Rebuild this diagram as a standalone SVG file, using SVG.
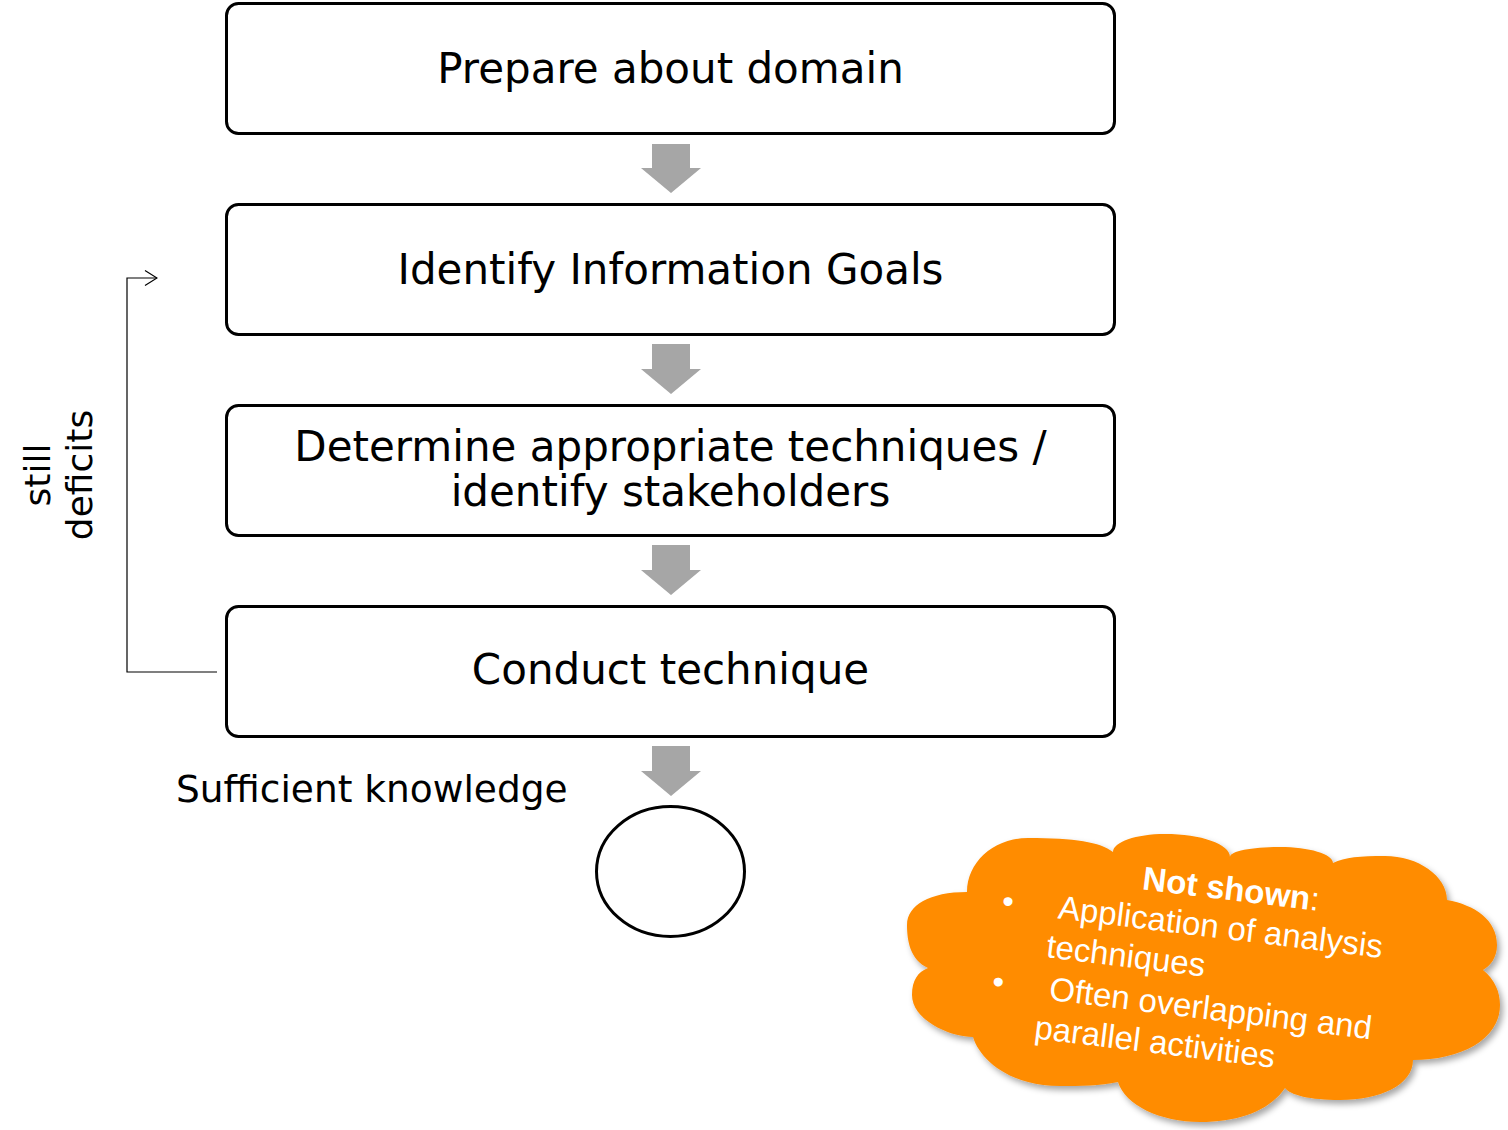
<svg xmlns="http://www.w3.org/2000/svg" width="1508" height="1130" viewBox="0 0 1508 1130">
<style>
.box{fill:#fff;stroke:#000;stroke-width:3}
.bt{font-family:"DejaVu Sans",Verdana,sans-serif;font-size:42px;fill:#000;text-anchor:middle}
.lbl{font-family:"DejaVu Sans",Verdana,sans-serif;font-size:36px;fill:#000}
.barrow{fill:#A6A6A6}
.conn{fill:none;stroke:#000;stroke-width:1.2}
.ct{font-family:"Liberation Sans",Arial,sans-serif;font-size:33px;fill:#fff}
</style>
<defs>
<marker id="open" markerWidth="14" markerHeight="18" refX="13" refY="9" orient="auto" markerUnits="userSpaceOnUse">
<path d="M1,1.5 L13,9 L1,16.5" fill="none" stroke="#000" stroke-width="1.2"/>
</marker>
<filter id="shadow" x="-10%" y="-10%" width="120%" height="130%">
<feDropShadow dx="3" dy="4" stdDeviation="3" flood-color="#000" flood-opacity="0.35"/>
</filter>
</defs>
<rect width="1508" height="1130" fill="#fff"/>
<g id="connectors">
<path class="barrow" d="M652,144 H690 V168 H701 L671,193 L641,168 H652 Z"/>
<path class="barrow" d="M652,344 H690 V369 H701 L671,394 L641,369 H652 Z"/>
<path class="barrow" d="M652,545 H690 V570 H701 L671,595 L641,570 H652 Z"/>
<path class="barrow" d="M652,746 H690 V771 H701 L671,796 L641,771 H652 Z"/>
<path class="conn" d="M217,672 H127 V278 H157" marker-end="url(#open)"/>
<g id="label-deficits">
<text class="lbl" text-anchor="middle" transform="translate(50,475) rotate(-90)">still</text>
<text class="lbl" text-anchor="middle" transform="translate(92,475) rotate(-90)">deficits</text>
</g>
<text id="label-sufficient" class="lbl" x="176" y="802" style="font-size:37.5px">Sufficient knowledge</text>
</g>
<g id="node-prepare">
<rect class="box" x="226.5" y="3.5" width="888" height="130" rx="12"/>
<text class="bt" x="670.5" y="83">Prepare about domain</text>
</g>
<g id="node-identify">
<rect class="box" x="226.5" y="204.5" width="888" height="130" rx="12"/>
<text class="bt" x="670.5" y="284">Identify Information Goals</text>
</g>
<g id="node-determine">
<rect class="box" x="226.5" y="405.5" width="888" height="130" rx="12"/>
<text class="bt" x="670.5" y="461">Determine appropriate techniques /</text>
<text class="bt" x="670.5" y="506">identify stakeholders</text>
</g>
<g id="node-conduct">
<rect class="box" x="226.5" y="606.5" width="888" height="130" rx="12"/>
<text class="bt" x="670.5" y="684">Conduct technique</text>
</g>
<g id="node-end">
<ellipse cx="670.5" cy="871.5" rx="74" ry="65" fill="#fff" stroke="#000" stroke-width="3"/>
</g>
<g id="node-cloud">
<path filter="url(#shadow)" fill="#FF8C00" d="M967,892 C967,862 994,838 1028,838 C1075,838 1100,842 1113,852 C1113,842 1136,834 1165,834 C1201,834 1230,844 1230,857 C1230,851 1252,847 1280,847 C1309,847 1333,854 1333,863 C1345,857 1360,856 1385,856 C1418,856 1447,876 1447,900 C1475,905 1497,920 1497,945 C1497,958 1490,966 1483,970 C1495,980 1500,992 1500,1005 C1500,1040 1460,1060 1413,1060 C1413,1085 1380,1100 1340,1100 C1310,1100 1290,1095 1285,1088 C1270,1110 1240,1122 1200,1122 C1160,1122 1125,1105 1118,1082 C1100,1086 1080,1086 1060,1086 C1010,1086 980,1060 973,1037 C950,1037 912,1020 912,995 C912,980 918,972 928,968 C910,960 907,940 907,925 C907,905 930,892 967,892 Z"/>
<g transform="rotate(7 1200 970)">
<text class="ct" x="1221" y="897" text-anchor="middle"><tspan font-weight="bold">Not shown</tspan>:</text>
<text class="ct" x="995.5" y="936.5">•</text>
<text class="ct" x="1052" y="936">Application of analysis</text>
<text class="ct" x="1045" y="976">techniques</text>
<text class="ct" x="995.5" y="1017.5">•</text>
<text class="ct" x="1053" y="1018">Often overlapping and</text>
<text class="ct" x="1043" y="1058">parallel activities</text>
</g>
</g>
</svg>
